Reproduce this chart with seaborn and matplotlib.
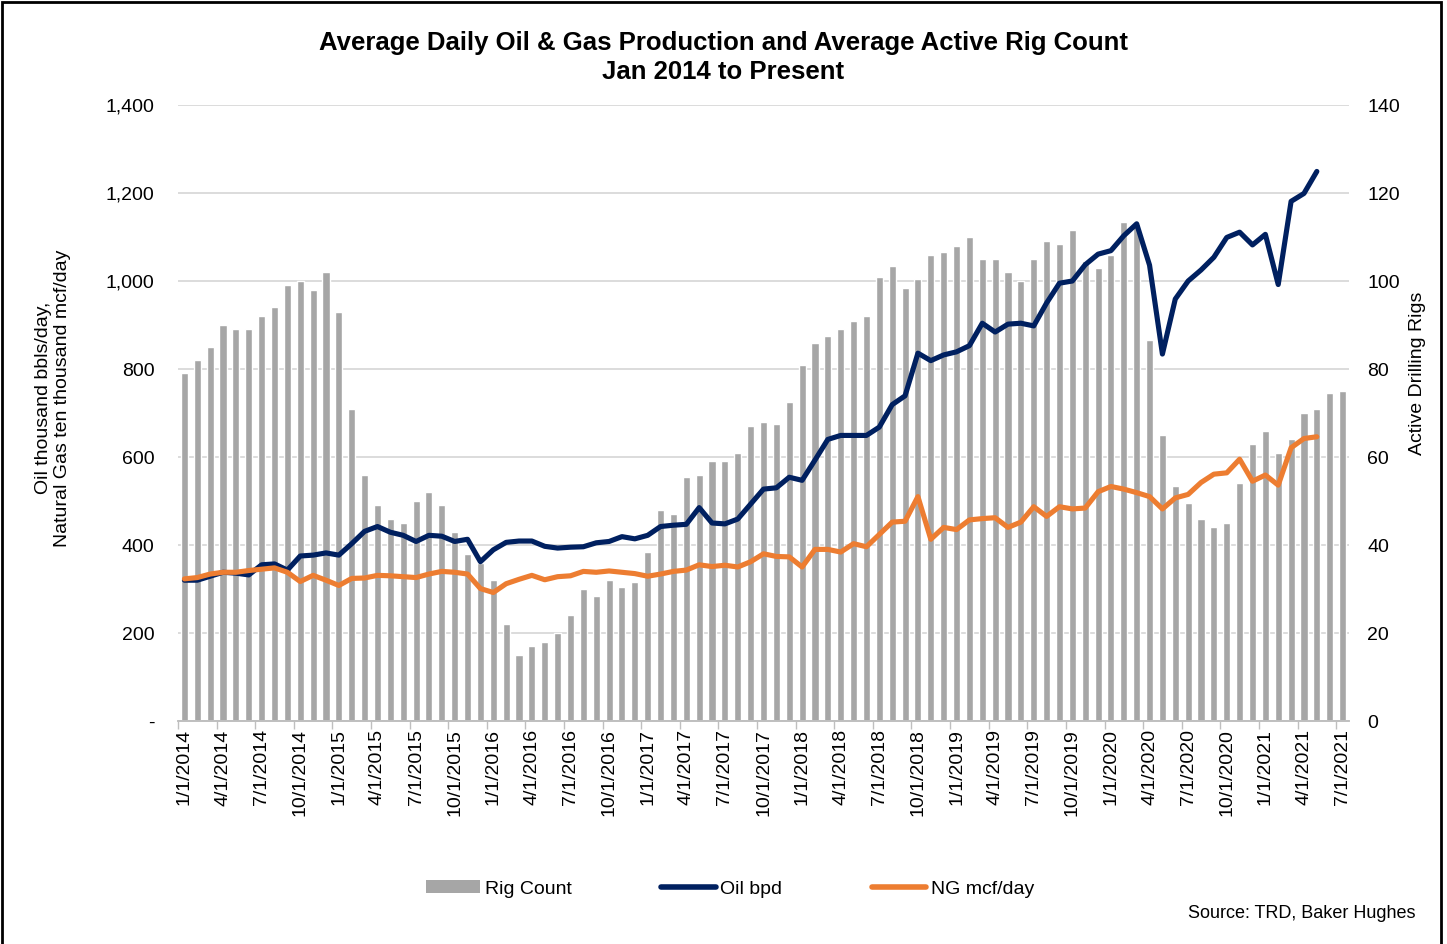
import pandas as pd
import numpy as np
import matplotlib
matplotlib.use('Agg')
import matplotlib.pyplot as plt
from matplotlib.lines import Line2D
from matplotlib.patches import Patch, Rectangle
from matplotlib.ticker import FuncFormatter
import seaborn as sns

# Monthly values, Jan 2014 onward
rig_count = [79, 82, 85, 90, 89, 89, 92, 94, 99, 100, 98, 102, 93, 71, 56, 49, 46, 45, 50, 52,
             49, 43, 38, 36, 32, 22, 15, 17, 18, 20, 24,
             30, 28.5, 32, 30.5, 31.5, 38.5, 48, 47, 55.5, 56, 59, 59, 61, 67, 68, 67.5, 72.5, 81, 86,
             87.5, 89, 91, 92, 101, 103.5, 98.5, 100.5, 106, 106.5, 108, 110,
             105, 105, 102, 100, 105, 109, 108.5, 111.5, 104.5, 103, 106, 113.5, 113, 86.5, 65, 53.5,
             49.5, 46, 44, 45, 54, 63, 66, 61, 64, 70, 71, 74.5, 75]

oil_bpd = [320, 320, 329, 338, 336, 332, 355, 357, 343, 375, 377, 382, 377, 403, 431, 442, 429, 422,
           408, 422, 420, 408, 413, 362, 389, 406, 409, 409, 397, 393, 395,
           396, 405, 408, 419, 414, 422, 442, 445, 447, 485, 450, 448, 459, 493, 527, 530, 554, 547,
           593, 640, 649, 649, 649, 668, 719, 739, 836, 819, 832, 839, 853,
           904, 884, 902, 904, 898, 950, 995, 1000, 1037, 1061, 1069, 1103, 1130, 1036, 834, 959,
           1000, 1025, 1054, 1099, 1111, 1082, 1106, 992, 1181, 1199, 1249]

ng_mcf = [323, 326, 334, 338, 338, 342, 345, 348, 338, 317, 331, 320, 308, 324, 325, 331, 330, 328,
          326, 334, 340, 338, 334, 301, 292, 312, 322, 331, 321, 328, 330,
          340, 338, 341, 338, 335, 329, 334, 340, 343, 355, 351, 354, 350, 362, 380, 374, 373, 350,
          390, 390, 384, 403, 396, 424, 452, 454, 510, 413, 440, 435, 457,
          460, 462, 440, 452, 487, 465, 487, 482, 484, 521, 533, 527, 519, 510, 482, 507, 515, 542,
          561, 564, 595, 545, 559, 536, 621, 642, 646]

months = pd.date_range('2014-01-01', periods=len(rig_count), freq='MS')
month_labels = [f"{d.month}/1/{d.year}" for d in months]

BAR_C = '#a6a6a6'
OIL_C = '#002060'
NG_C = '#ed7d31'

sns.set_theme(style='white')
plt.rcParams['font.family'] = ['Liberation Sans', 'DejaVu Sans']
plt.rcParams['text.color'] = 'black'
plt.rcParams['xtick.color'] = 'black'
plt.rcParams['ytick.color'] = 'black'

fig = plt.figure(figsize=(14.47, 9.44), dpi=100)
ax_r = fig.add_axes([178 / 1447, 1 - 721 / 944, (1349 - 178) / 1447, (721 - 105) / 944])

rigs_df = pd.DataFrame({'month': month_labels, 'rigs': rig_count})
sns.barplot(data=rigs_df, x='month', y='rigs', color=BAR_C, saturation=1, width=0.55, ax=ax_r)
ax_r.set_ylim(0, 140)
ax_r.set_yticks(np.arange(0, 141, 20))
ax_r.set_ylabel('')
ax_r.set_xlabel('')
ax_r.grid(axis='y', color='#d9d9d9', lw=1.3)
ax_r.set_axisbelow(True)

# lines on the left axis, drawn above the bars
ax_l = ax_r.twinx()
oil_df = pd.DataFrame({'pos': np.arange(len(oil_bpd)), 'val': oil_bpd})
ng_df = pd.DataFrame({'pos': np.arange(len(ng_mcf)), 'val': ng_mcf})
sns.lineplot(data=oil_df, x='pos', y='val', color=OIL_C, lw=3.7, ax=ax_l,
             solid_joinstyle='round', solid_capstyle='round')
sns.lineplot(data=ng_df, x='pos', y='val', color=NG_C, lw=3.7, ax=ax_l,
             solid_joinstyle='round', solid_capstyle='round')
ax_l.set_ylim(0, 1400)
ax_l.set_yticks(np.arange(0, 1401, 200))
ax_l.yaxis.set_major_formatter(FuncFormatter(lambda v, p: '-' if v == 0 else f'{v:,.0f}'))
ax_l.set_ylabel('')
ax_l.set_xlabel('')

# twinx flips ticks, so put them where they belong afterwards
ax_r.yaxis.tick_right()
ax_l.yaxis.tick_left()
ax_r.tick_params(axis='y', labelsize=14, length=0, pad=13)
ax_l.tick_params(axis='y', labelsize=14, length=0, pad=17)

n = len(rig_count)
ax_r.set_xlim(-0.5, n - 0.5)
ax_l.set_xlim(-0.5, n - 0.5)
ax_r.set_xticks(np.arange(0, n, 3))
ax_r.set_xticklabels(month_labels[::3], rotation=90)
ax_r.set_xticks(np.arange(-0.5, n, 3), minor=True)
ax_r.tick_params(axis='x', which='major', labelsize=14, length=0, pad=6)
ax_r.tick_params(axis='x', which='minor', length=6, width=1, color='#bfbfbf', bottom=True)
ax_l.tick_params(axis='x', bottom=False, labelbottom=False)

for a in (ax_r, ax_l):
    for s in ('top', 'left', 'right'):
        a.spines[s].set_visible(False)
    a.spines['bottom'].set_color('#bfbfbf')
    a.spines['bottom'].set_linewidth(1.2)

fig.text(0.5, 0.939, 'Average Daily Oil & Gas Production and Average Active Rig Count\nJan 2014 to Present',
         ha='center', va='center', fontsize=18.5, fontweight='bold', linespacing=1.25)
fig.text(53 / 1447, 1 - 398 / 944, 'Oil thousand bbls/day,\nNatural Gas ten thousand mcf/day',
         rotation=90, ha='center', va='center', fontsize=14, linespacing=1.2)
fig.text(1418 / 1447, 1 - 373 / 944, 'Active Drilling Rigs', rotation=90,
         ha='center', va='center', fontsize=14)

handles = [Patch(facecolor=BAR_C, edgecolor='none'),
           Line2D([], [], color=OIL_C, lw=4, solid_capstyle='round'),
           Line2D([], [], color=NG_C, lw=4, solid_capstyle='round')]
fig.legend(handles, ['Rig Count', 'Oil bpd', 'NG mcf/day'], loc='center',
           bbox_to_anchor=(730 / 1447, 1 - 889 / 944), ncol=3, frameon=False, fontsize=14,
           handlelength=2.8, handleheight=0.65, handletextpad=0.25, columnspacing=4.6)

fig.text(1416 / 1447, 1 - 913 / 944, 'Source: TRD, Baker Hughes', ha='right', va='center', fontsize=13)

fig.add_artist(Rectangle((1.5 / 1447, -0.05), 1439.5 / 1447, 1.05 - 2 / 944,
                         transform=fig.transFigure, fill=False, ec='black', lw=2))

fig.savefig('out.png', dpi=100)
